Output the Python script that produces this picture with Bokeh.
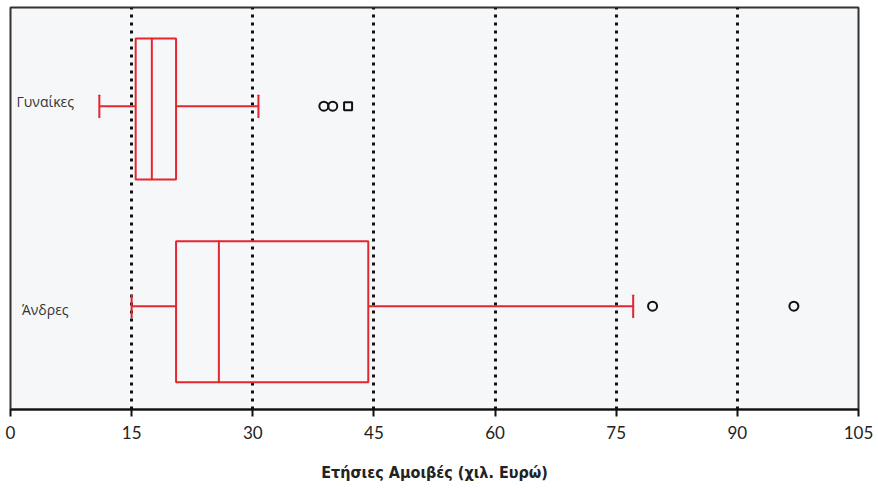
from bokeh.plotting import figure
from bokeh.models import Range1d, FixedTicker, ColumnDataSource
from bokeh.core.properties import value
from bokeh.embed import file_html
from bokeh.resources import INLINE

groups = ["Γυναίκες", "Άνδρες"]
lower_whisker = [11.0, 15.0]
q1 = [15.5, 20.5]
median = [17.5, 25.8]
q3 = [20.5, 44.3]
upper_whisker = [30.7, 77.1]

outlier_group = ["Γυναίκες", "Γυναίκες", "Άνδρες", "Άνδρες"]
outlier_value = [38.8, 39.9, 79.5, 97.0]
extreme_group = ["Γυναίκες"]
extreme_value = [41.8]

x_ticks = [0, 15, 30, 45, 60, 75, 90, 105]

RED = "#e4262f"
TICK_FONT = "Lato"
LABEL_FONT = "Liberation Sans Narrow, DejaVu Sans Condensed, Roboto, sans-serif"

n = len(groups)
ypos = {g: n - i - 0.5 for i, g in enumerate(groups)}
ys = [ypos[g] for g in groups]
label_shift = [0.024, -0.016]
box_shift = [-0.014, -0.028]

p = figure(frame_width=848, frame_height=402, output_backend="svg", toolbar_location=None,
           x_range=Range1d(0, 105), y_range=Range1d(-0.0165, 1.9935),
           min_border_left=10, min_border_right=20, min_border_top=7, min_border_bottom=79)

p.background_fill_color = "#f6f7f9"
p.border_fill_color = "white"
p.outline_line_color = "#333333"
p.outline_line_width = 2

p.yaxis.visible = False
p.ygrid.visible = False
p.xgrid.ticker = FixedTicker(ticks=x_ticks)
p.xgrid.grid_line_color = "#111111"
p.xgrid.grid_line_width = 3
p.xgrid.grid_line_dash = "3 5"

ax = p.xaxis[0]
ax.ticker = FixedTicker(ticks=x_ticks)
ax.axis_line_color = "#111111"
ax.axis_line_width = 2
ax.major_tick_line_color = "#111111"
ax.major_tick_line_width = 2
ax.major_tick_out = 7
ax.major_tick_in = 0
ax.minor_tick_line_color = None
ax.major_label_text_font = TICK_FONT
ax.major_label_text_font_size = "17px"
ax.major_label_text_color = "#222222"
ax.major_label_standoff = 9
ax.axis_label = "Ετήσιες Αμοιβές (χιλ. Ευρώ)"
ax.axis_label_text_font = LABEL_FONT
ax.axis_label_text_font_size = "16px"
ax.axis_label_text_font_style = "bold"
ax.axis_label_text_color = "#222222"
ax.axis_label_standoff = 21

src = ColumnDataSource(dict(y=ys, lw=lower_whisker, q1=q1, med=median, q3=q3, uw=upper_whisker,
                            label=groups,
                            ly=[y + s for y, s in zip(ys, label_shift)],
                            by=[y + s for y, s in zip(ys, box_shift)]))

# whiskers
p.segment(x0="lw", y0="y", x1="q1", y1="y", source=src, line_color=RED, line_width=2)
p.segment(x0="q3", y0="y", x1="uw", y1="y", source=src, line_color=RED, line_width=2)
# caps
p.rect(x="lw", y="y", width=0.0001, height=0.11, source=src, fill_color=None, line_color=RED, line_width=2)
p.rect(x="uw", y="y", width=0.0001, height=0.11, source=src, fill_color=None, line_color=RED, line_width=2)
# boxes
p.hbar(y="by", left="q1", right="q3", height=0.705, source=src, fill_color=None,
       line_color=RED, line_width=2)
# medians
p.rect(x="med", y="by", width=0.0001, height=0.705, source=src, fill_color=None, line_color=RED, line_width=2)

# outliers
p.scatter(x=outlier_value, y=[ypos[g] for g in outlier_group], marker="circle", size=9,
          fill_color=None, line_color="#111111", line_width=2)
p.scatter(x=extreme_value, y=[ypos[g] for g in extreme_group], marker="square", size=8,
          fill_color=None, line_color="#111111", line_width=2)

# group labels inside the plot
p.text(x=4.3, y="ly", source=src, text="label", text_align="center", text_baseline="middle",
       text_font=value("Open Sans"), text_font_size="14px", text_color="#333333")

open("out.html", "w").write(file_html(p, INLINE))
